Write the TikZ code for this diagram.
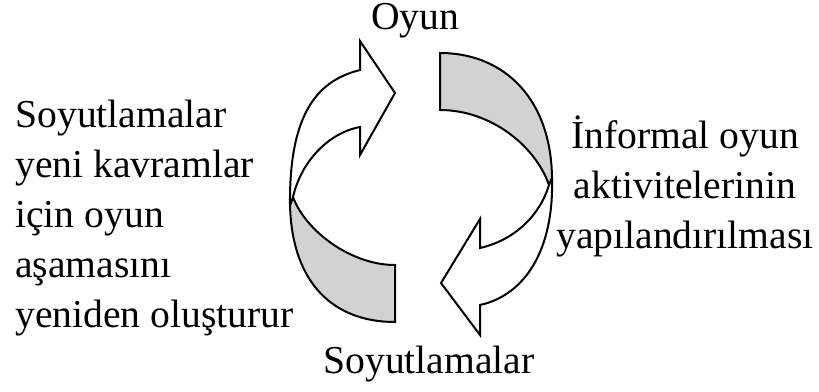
\documentclass[tikz,border=0pt]{standalone}
\usepackage{fontspec}
\setmainfont{Liberation Serif}
\usepackage{tikz}
\usetikzlibrary{positioning}
\tikzstyle{face} = [draw,line width=1pt,fill=white,line join=miter]
\tikzstyle{side} = [draw,line width=1pt,fill=gray!35,line join=miter]
\tikzstyle{label} = [inner sep=0pt,font=\fontsize{19.8}{25}\selectfont]

\begin{document}
\begin{tikzpicture}[x=0.5pt,y=-0.5pt]
    \useasboundingbox (0,0) rectangle (819,391);
    % left arrow, pointing up to the right
    \path[side] (293,197) .. controls (305,230) and (350,265) .. (395,265)
        -- (395,322) .. controls (335,322) and (292,285) .. (290,205) -- cycle;
    \path[face] (290,205) .. controls (289,110) and (320,80) .. (360,70)
        -- (360,41) -- (395,93) -- (360,155) -- (360,127)
        .. controls (328,133) and (301,162) .. (293,197) -- cycle;
    % right arrow, pointing down to the left
    \path[side] (440,53) .. controls (505,53) and (552,100) .. (552,180)
        -- (549,185) .. controls (535,145) and (490,110) .. (440,110) -- cycle;
    \path[face] (552,178) .. controls (554,250) and (525,295) .. (480,305)
        -- (480,335) -- (441,283) -- (480,219) -- (480,248)
        .. controls (515,240) and (540,215) .. (549,185) -- cycle;
    % texts (base is the last line)
    \node[label,anchor=base] (oyun) at (415,29) {Oyun};
    \node[label,anchor=base] (soyut) at (429,373) {Soyutlamalar};
    \node[label,align=left,anchor=base west] (yeni) at (15,327)
        {Soyutlamalar\\yeni kavramlar\\için oyun\\aşamasını\\yeniden oluşturur};
    \node[label,align=center,anchor=base] (inform) at (685,248)
        {İnformal oyun\\aktivitelerinin\\yapılandırılması};
\end{tikzpicture}
\end{document}
